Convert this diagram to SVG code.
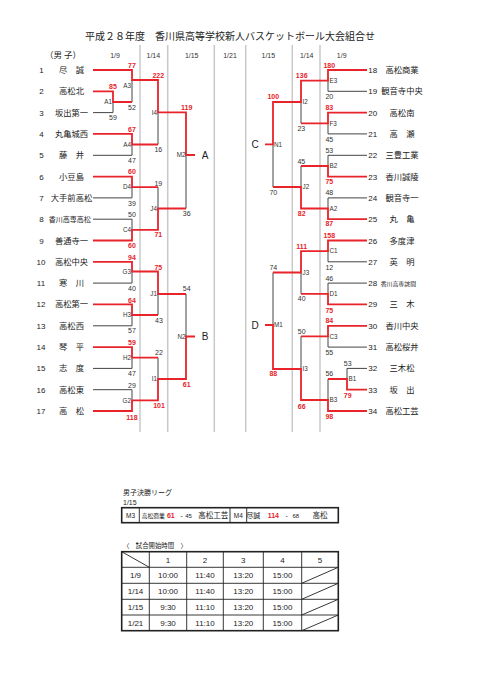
<svg xmlns="http://www.w3.org/2000/svg" width="481" height="680" viewBox="0 0 481 680">
<style>
.bg{fill:#fff}
.ttl{font-family:"Noto Sans CJK JP",sans-serif;font-size:10px;fill:#222;text-anchor:middle}
.nm{font-family:"Noto Sans CJK JP",sans-serif;font-size:8.3px;fill:#222;text-anchor:middle}
.nms{font-family:"Noto Sans CJK JP",sans-serif;font-size:7px;fill:#222}
.no{font-family:"Liberation Sans",sans-serif;font-size:8px;fill:#222;text-anchor:middle}
.dt{font-family:"Liberation Sans",sans-serif;font-size:7px;fill:#333;text-anchor:middle}
.sc{font-family:"Liberation Sans",sans-serif;font-size:7px;text-anchor:middle}
.sr{fill:#e8232a;font-weight:bold}
.sk{fill:#333}
.ml{font-family:"Liberation Sans",sans-serif;font-size:6.3px;fill:#333}
.mlL{text-anchor:end}
.big{font-family:"Liberation Sans",sans-serif;font-size:10px;fill:#222;text-anchor:middle}
.ln{fill:none;stroke-linejoin:miter}
.lk{stroke:#444;stroke-width:1}
.lr{stroke:#e8232a;stroke-width:1.8}
.sep{stroke:#c8c8c8;stroke-width:1.5}
.tb{font-family:"Liberation Sans",sans-serif;font-size:8px;fill:#222;text-anchor:middle}
.tj{font-family:"Noto Sans CJK JP",sans-serif;fill:#222;text-anchor:middle}
.cell{fill:none;stroke:#222;stroke-width:0.9}
.outer{fill:none;stroke:#222;stroke-width:1.6}
</style>
<rect class="bg" x="0" y="0" width="481" height="680"/>

<g id="header">
<text class="ttl" x="230" y="39.5">平成２８年度　香川県高等学校新人バスケットボール大会組合せ</text>
<text class="nm" x="63" y="58" style="font-size:8.5px">（男 子）</text>
<text class="dt" x="115" y="58">1/9</text>
<text class="dt" x="153.3" y="58">1/14</text>
<text class="dt" x="191.7" y="58">1/15</text>
<text class="dt" x="230" y="58">1/21</text>
<text class="dt" x="268.3" y="58">1/15</text>
<text class="dt" x="306.7" y="58">1/14</text>
<text class="dt" x="341.7" y="58">1/9</text>
</g>

<g id="separators">
<line class="sep" x1="140" y1="45" x2="140" y2="432"/>
<line class="sep" x1="167.7" y1="45" x2="167.7" y2="432"/>
<line class="sep" x1="214.3" y1="45" x2="214.3" y2="432"/>
<line class="sep" x1="245.7" y1="45" x2="245.7" y2="432"/>
<line class="sep" x1="292.3" y1="45" x2="292.3" y2="432"/>
<line class="sep" x1="320" y1="45" x2="320" y2="432"/>
</g>

<g id="connectors">
<g class="ln lk">
<path d="M93,112.6 H113 V102"/>
<path d="M132,80 V102"/>
<path d="M93,155.3 H132 V144.5"/>
<path d="M158,112.3 V144.5"/>
<path d="M93,197.9 H132 V187.2"/>
<path d="M93,219.2 H132 V229.9"/>
<path d="M158,187.2 V208.5"/>
<path d="M186,155 V208.5"/>
<path d="M93,283.1 H132 V271.5"/>
<path d="M93,325.8 H132 V315"/>
<path d="M158,294 V315"/>
<path d="M186,294 V336.5"/>
<path d="M93,368.4 H132 V357.6"/>
<path d="M158,357.6 V379"/>
<path d="M93,389.7 H132 V400.3"/>
<path d="M367,91.3 H328 V80.6"/>
<path d="M367,133.9 H328 V123.3"/>
<path d="M301,102 V123.3"/>
<path d="M367,155.3 H328 V166"/>
<path d="M367,197.9 H328 V208.5"/>
<path d="M301,166 V187"/>
<path d="M273,144.4 V187"/>
<path d="M367,261.8 H328 V251.2"/>
<path d="M367,283.1 H328 V293.8"/>
<path d="M301,272.5 V293.8"/>
<path d="M273,272.5 V325"/>
<path d="M367,347.1 H328 V336.4"/>
<path d="M301,336.4 V369"/>
<path d="M367,368.4 H347 V379"/>
<path d="M328,379 V400"/>
</g>
<g class="ln lr">
<path d="M93,70 H132 V80 H158 V112.3 H186 V155 H195"/>
<path d="M93,91.3 H113 V102 H132"/>
<path d="M93,133.9 H132 V144.5 H158"/>
<path d="M93,176.6 H132 V187.2 H158"/>
<path d="M93,240.5 H132 V229.9 H158 V208.5 H186"/>
<path d="M93,261.8 H132 V271.5 H158 V294 H186"/>
<path d="M93,304.4 H132 V315 H158"/>
<path d="M93,347.1 H132 V357.6 H158"/>
<path d="M93,411 H132 V400.3 H158 V379 H186 V336.5 H195"/>
<path d="M367,70 H328 V80.6 H301 V102 H273 V144.4 H265"/>
<path d="M367,112.6 H328 V123.3 H301"/>
<path d="M367,176.6 H328 V166 H301"/>
<path d="M367,219.2 H328 V208.5 H301 V187 H273"/>
<path d="M367,240.5 H328 V251.2 H301 V272.5 H273"/>
<path d="M367,304.4 H328 V293.8 H301"/>
<path d="M367,325.8 H328 V336.4 H301"/>
<path d="M367,389.7 H347 V379 H328"/>
<path d="M367,411 H328 V400 H301 V369 H273 V325 H265"/>
</g>
</g>

<g id="teams-left">
<g id="t1"><text class="no" x="41.5" y="73">1</text><text class="nm" x="71.5" y="73">尽　誠</text></g>
<g id="t2"><text class="no" x="41.5" y="94.3">2</text><text class="nm" x="71.5" y="94.3">高松北</text></g>
<g id="t3"><text class="no" x="41.5" y="115.6">3</text><text class="nm" x="71.5" y="115.6">坂出第一</text></g>
<g id="t4"><text class="no" x="41.5" y="136.9">4</text><text class="nm" x="71.5" y="136.9">丸亀城西</text></g>
<g id="t5"><text class="no" x="41.5" y="158.3">5</text><text class="nm" x="71.5" y="158.3">藤　井</text></g>
<g id="t6"><text class="no" x="41.5" y="179.6">6</text><text class="nm" x="71.5" y="179.6">小豆島</text></g>
<g id="t7"><text class="no" x="41.5" y="200.9">7</text><text class="nm" x="71.5" y="200.9">大手前高松</text></g>
<g id="t8"><text class="no" x="41.5" y="222.2">8</text><text class="nms" x="69.7" y="221.8" text-anchor="middle">香川高専高松</text></g>
<g id="t9"><text class="no" x="41.5" y="243.5">9</text><text class="nm" x="71.5" y="243.5">善通寺一</text></g>
<g id="t10"><text class="no" x="41" y="264.8">10</text><text class="nm" x="71.5" y="264.8">高松中央</text></g>
<g id="t11"><text class="no" x="41" y="286.1">11</text><text class="nm" x="71.5" y="286.1">寒　川</text></g>
<g id="t12"><text class="no" x="41" y="307.4">12</text><text class="nm" x="71.5" y="307.4">高松第一</text></g>
<g id="t13"><text class="no" x="41" y="328.8">13</text><text class="nm" x="71.5" y="328.8">高松西</text></g>
<g id="t14"><text class="no" x="41" y="350.1">14</text><text class="nm" x="71.5" y="350.1">琴　平</text></g>
<g id="t15"><text class="no" x="41" y="371.4">15</text><text class="nm" x="71.5" y="371.4">志　度</text></g>
<g id="t16"><text class="no" x="41" y="392.7">16</text><text class="nm" x="71.5" y="392.7">高松東</text></g>
<g id="t17"><text class="no" x="41" y="414">17</text><text class="nm" x="71.5" y="414">高　松</text></g>
</g>

<g id="teams-right">
<g id="t18"><text class="no" x="372.7" y="73">18</text><text class="nm" x="402" y="73">高松商業</text></g>
<g id="t19"><text class="no" x="372.7" y="94.3">19</text><text class="nm" x="402" y="94.3">観音寺中央</text></g>
<g id="t20"><text class="no" x="372.7" y="115.6">20</text><text class="nm" x="402" y="115.6">高松南</text></g>
<g id="t21"><text class="no" x="372.7" y="136.9">21</text><text class="nm" x="402" y="136.9">高　瀬</text></g>
<g id="t22"><text class="no" x="372.7" y="158.3">22</text><text class="nm" x="402" y="158.3">三豊工業</text></g>
<g id="t23"><text class="no" x="372.7" y="179.6">23</text><text class="nm" x="402" y="179.6">香川誠陵</text></g>
<g id="t24"><text class="no" x="372.7" y="200.9">24</text><text class="nm" x="402" y="200.9">観音寺一</text></g>
<g id="t25"><text class="no" x="372.7" y="222.2">25</text><text class="nm" x="402" y="222.2">丸　亀</text></g>
<g id="t26"><text class="no" x="372.7" y="243.5">26</text><text class="nm" x="402" y="243.5">多度津</text></g>
<g id="t27"><text class="no" x="372.7" y="264.8">27</text><text class="nm" x="402" y="264.8">英　明</text></g>
<g id="t28"><text class="no" x="372.7" y="286.1">28</text><text class="nms" x="380.7" y="285.6" style="font-size:5.9px">香川高専詫間</text></g>
<g id="t29"><text class="no" x="372.7" y="307.4">29</text><text class="nm" x="402" y="307.4">三　木</text></g>
<g id="t30"><text class="no" x="372.7" y="328.8">30</text><text class="nm" x="402" y="328.8">香川中央</text></g>
<g id="t31"><text class="no" x="372.7" y="350.1">31</text><text class="nm" x="402" y="350.1">高松桜井</text></g>
<g id="t32"><text class="no" x="372.7" y="371.4">32</text><text class="nm" x="402" y="371.4">三木松</text></g>
<g id="t33"><text class="no" x="372.7" y="392.7">33</text><text class="nm" x="402" y="392.7">坂　出</text></g>
<g id="t34"><text class="no" x="372.7" y="414">34</text><text class="nm" x="402" y="414">高松工芸</text></g>
</g>

<g id="matches-left">
<g id="mA1"><text class="ml mlL" x="112" y="104">A1</text><text class="sc sr" x="113" y="88.5">85</text><text class="sc sk" x="113" y="119.5">59</text></g>
<g id="mA3"><text class="ml mlL" x="131" y="88">A3</text><text class="sc sr" x="132" y="67.5">77</text><text class="sc sk" x="132" y="109.5">52</text></g>
<g id="mA4"><text class="ml mlL" x="131" y="146.7">A4</text><text class="sc sr" x="132" y="131.5">67</text><text class="sc sk" x="132" y="162.5">47</text></g>
<g id="mD4"><text class="ml mlL" x="131" y="189.4">D4</text><text class="sc sr" x="132" y="173.5">60</text><text class="sc sk" x="132" y="205.5">39</text></g>
<g id="mC4"><text class="ml mlL" x="131" y="232.1">C4</text><text class="sc sk" x="132" y="216.5">50</text><text class="sc sr" x="132" y="248">60</text></g>
<g id="mG3"><text class="ml mlL" x="131" y="273.7">G3</text><text class="sc sr" x="132" y="259.5">94</text><text class="sc sk" x="132" y="290.5">40</text></g>
<g id="mH3"><text class="ml mlL" x="131" y="317.2">H3</text><text class="sc sr" x="132" y="302.5">64</text><text class="sc sk" x="132" y="333">57</text></g>
<g id="mH2"><text class="ml mlL" x="131" y="359.8">H2</text><text class="sc sr" x="132" y="344.5">59</text><text class="sc sk" x="132" y="376">47</text></g>
<g id="mG2"><text class="ml mlL" x="131" y="402.5">G2</text><text class="sc sk" x="132" y="387.5">29</text><text class="sc sr" x="132" y="419.5">118</text></g>
<g id="mI4"><text class="ml mlL" x="157" y="114.5">I4</text><text class="sc sr" x="158.3" y="78">222</text><text class="sc sk" x="158.3" y="152">16</text></g>
<g id="mJ4"><text class="ml mlL" x="157" y="210.7">J4</text><text class="sc sk" x="158.3" y="185.5">19</text><text class="sc sr" x="158.3" y="237">71</text></g>
<g id="mJ1"><text class="ml mlL" x="157" y="296.2">J1</text><text class="sc sr" x="158.3" y="269.5">75</text><text class="sc sk" x="159" y="322.5">43</text></g>
<g id="mI1"><text class="ml mlL" x="157" y="381.2">I1</text><text class="sc sk" x="159" y="354.5">22</text><text class="sc sr" x="159" y="408">101</text></g>
<g id="mM2"><text class="ml mlL" x="185.5" y="157.2">M2</text><text class="sc sr" x="186.7" y="109.8">119</text><text class="sc sk" x="186.7" y="216">36</text><text class="big" x="205" y="158.6">A</text></g>
<g id="mN2"><text class="ml mlL" x="185.5" y="338.7">N2</text><text class="sc sk" x="186.7" y="291">54</text><text class="sc sr" x="186.7" y="386.5">61</text><text class="big" x="205" y="340.1">B</text></g>
</g>

<g id="matches-right">
<g id="mE3"><text class="ml" x="329.5" y="82.8">E3</text><text class="sc sr" x="329.3" y="67.5">180</text><text class="sc sk" x="329.3" y="99">20</text></g>
<g id="mF3"><text class="ml" x="329.5" y="125.5">F3</text><text class="sc sr" x="329.3" y="109.5">83</text><text class="sc sk" x="329.3" y="141.5">45</text></g>
<g id="mB2"><text class="ml" x="329.5" y="168.2">B2</text><text class="sc sk" x="329.3" y="152.5">53</text><text class="sc sr" x="329.3" y="184">75</text></g>
<g id="mA2"><text class="ml" x="329.5" y="210.7">A2</text><text class="sc sk" x="329.3" y="195">48</text><text class="sc sr" x="329.3" y="226">87</text></g>
<g id="mC1"><text class="ml" x="329.5" y="253.4">C1</text><text class="sc sr" x="329.3" y="238">158</text><text class="sc sk" x="329.3" y="269.5">12</text></g>
<g id="mD1"><text class="ml" x="329.5" y="296">D1</text><text class="sc sk" x="329.3" y="280.5">46</text><text class="sc sr" x="329.3" y="312.5">75</text></g>
<g id="mC3"><text class="ml" x="329.5" y="338.6">C3</text><text class="sc sr" x="329.3" y="323">84</text><text class="sc sk" x="329.3" y="355">55</text></g>
<g id="mB1"><text class="ml" x="348.5" y="381.2">B1</text><text class="sc sk" x="347.7" y="365.5">53</text><text class="sc sr" x="347.7" y="397.5">79</text></g>
<g id="mB3"><text class="ml" x="329.5" y="402.2">B3</text><text class="sc sk" x="329.3" y="375.5">56</text><text class="sc sr" x="329.3" y="419">98</text></g>
<g id="mI2"><text class="ml" x="302.5" y="104.2">I2</text><text class="sc sr" x="301.7" y="78">136</text><text class="sc sk" x="301.3" y="131">23</text></g>
<g id="mJ2"><text class="ml" x="302.5" y="189.2">J2</text><text class="sc sk" x="301.3" y="163.5">45</text><text class="sc sr" x="301.7" y="216">82</text></g>
<g id="mJ3"><text class="ml" x="302.5" y="274.7">J3</text><text class="sc sr" x="301.7" y="248.5">111</text><text class="sc sk" x="301.7" y="301">40</text></g>
<g id="mI3"><text class="ml" x="302.5" y="371.2">I3</text><text class="sc sk" x="301.7" y="333.5">50</text><text class="sc sr" x="301.7" y="408.5">66</text></g>
<g id="mN1"><text class="ml" x="274" y="146.6">N1</text><text class="sc sr" x="273.3" y="99.2">100</text><text class="sc sk" x="273.3" y="195">70</text><text class="big" x="255" y="148">C</text></g>
<g id="mM1"><text class="ml" x="274" y="327.2">M1</text><text class="sc sk" x="273.3" y="270">74</text><text class="sc sr" x="273.3" y="376">88</text><text class="big" x="255" y="328.6">D</text></g>
</g>

<g id="final-league">
<text class="tj" x="123" y="494.5" style="font-size:7px;text-anchor:start">男子決勝リーグ</text>
<text class="tb" x="123" y="504.5" style="font-size:7px;text-anchor:start">1/15</text>
<rect class="outer" x="121.7" y="507.7" width="216.6" height="15"/>
<line class="cell" x1="139.3" y1="507.7" x2="139.3" y2="522.7"/>
<line class="cell" x1="230" y1="507.7" x2="230" y2="522.7"/>
<line class="cell" x1="246.7" y1="507.7" x2="246.7" y2="522.7"/>
<text class="tb" x="130.5" y="517.7" style="font-size:6.5px">M3</text>
<text class="tj" x="153.3" y="517.5" style="font-size:5.8px">高松商業</text>
<text class="sc sr" x="170.8" y="517.7">61</text>
<text class="tb" x="181.7" y="517.5" style="font-size:6.5px">-</text>
<text class="tb" x="188.5" y="517.7" style="font-size:6px">45</text>
<text class="tj" x="213.3" y="518" style="font-size:7.5px">高松工芸</text>
<text class="tb" x="238.3" y="517.7" style="font-size:6.5px">M4</text>
<text class="tj" x="253.3" y="517.8" style="font-size:7px">尽誠</text>
<text class="sc sr" x="273.3" y="517.7">114</text>
<text class="tb" x="286.7" y="517.5" style="font-size:6.5px">-</text>
<text class="tb" x="295.8" y="517.7" style="font-size:6px">68</text>
<text class="tj" x="320" y="518" style="font-size:7.5px">高松</text>
</g>

<g id="time-table">
<text class="tj" x="123" y="547.5" style="font-size:6.4px;text-anchor:start">〈　試合開始時間　〉</text>
<rect class="outer" x="121.7" y="551.7" width="216.6" height="79"/>
<g class="cell">
<line x1="149.3" y1="551.7" x2="149.3" y2="630.7"/>
<line x1="186.7" y1="551.7" x2="186.7" y2="630.7"/>
<line x1="223.3" y1="551.7" x2="223.3" y2="630.7"/>
<line x1="263.3" y1="551.7" x2="263.3" y2="630.7"/>
<line x1="301.7" y1="551.7" x2="301.7" y2="630.7"/>
<line x1="121.7" y1="567.3" x2="338.3" y2="567.3"/>
<line x1="121.7" y1="583.3" x2="338.3" y2="583.3"/>
<line x1="121.7" y1="599.3" x2="338.3" y2="599.3"/>
<line x1="121.7" y1="615" x2="338.3" y2="615"/>
<line x1="121.7" y1="551.7" x2="149.3" y2="567.3"/>
<line x1="301.7" y1="583.3" x2="338.3" y2="567.3"/>
<line x1="301.7" y1="599.3" x2="338.3" y2="583.3"/>
<line x1="301.7" y1="615" x2="338.3" y2="599.3"/>
<line x1="301.7" y1="630.7" x2="338.3" y2="615"/>
</g>
<text class="tb" x="168" y="562.5">1</text>
<text class="tb" x="205" y="562.5">2</text>
<text class="tb" x="243.3" y="562.5">3</text>
<text class="tb" x="282.5" y="562.5">4</text>
<text class="tb" x="320" y="562.5">5</text>
<text class="tb" x="135.5" y="578.3">1/9</text>
<text class="tb" x="168" y="578.3">10:00</text>
<text class="tb" x="205" y="578.3">11:40</text>
<text class="tb" x="243.3" y="578.3">13:20</text>
<text class="tb" x="282.5" y="578.3">15:00</text>
<text class="tb" x="135.5" y="594.3">1/14</text>
<text class="tb" x="168" y="594.3">10:00</text>
<text class="tb" x="205" y="594.3">11:40</text>
<text class="tb" x="243.3" y="594.3">13:20</text>
<text class="tb" x="282.5" y="594.3">15:00</text>
<text class="tb" x="135.5" y="610.2">1/15</text>
<text class="tb" x="168" y="610.2">9:30</text>
<text class="tb" x="205" y="610.2">11:10</text>
<text class="tb" x="243.3" y="610.2">13:20</text>
<text class="tb" x="282.5" y="610.2">15:00</text>
<text class="tb" x="135.5" y="626">1/21</text>
<text class="tb" x="168" y="626">9:30</text>
<text class="tb" x="205" y="626">11:10</text>
<text class="tb" x="243.3" y="626">13:20</text>
<text class="tb" x="282.5" y="626">15:00</text>
</g>
</svg>
